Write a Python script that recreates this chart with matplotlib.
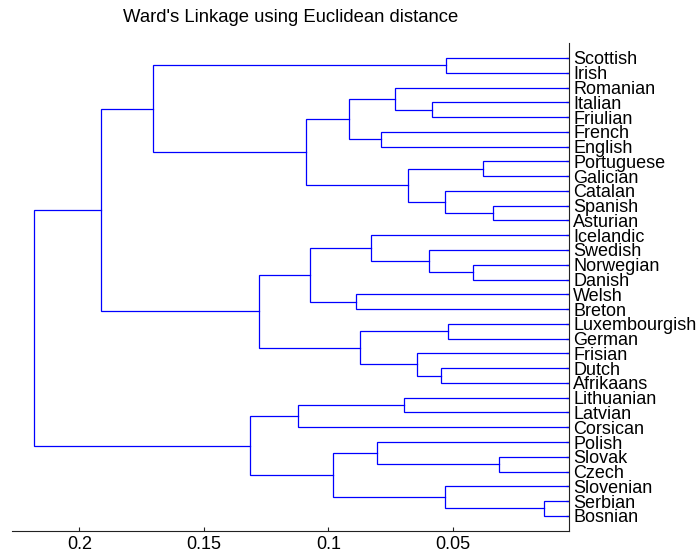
#!/usr/bin/env python
"""Draw a left-facing dendrogram of European languages (Ward's linkage).

Usage:
    python plot.py
"""

import matplotlib

matplotlib.use("Agg")  # Use non-interactive backend

import matplotlib.pyplot as plt

plt.rcParams["font.family"] = ["Liberation Sans", "DejaVu Sans"]

# Leaves, top to bottom
labels = [
    "Scottish", "Irish", "Romanian", "Italian", "Friulian", "French", "English",
    "Portuguese", "Galician", "Catalan", "Spanish", "Asturian", "Icelandic",
    "Swedish", "Norwegian", "Danish", "Welsh", "Breton", "Luxembourgish",
    "German", "Frisian", "Dutch", "Afrikaans", "Lithuanian", "Latvian",
    "Corsican", "Polish", "Slovak", "Czech", "Slovenian", "Serbian", "Bosnian",
]

# Linkage: merge k joins link_a[k] and link_b[k] into node len(labels) + k
link_a = [30, 27, 10, 7, 14, 18, 0, 9, 29, 21, 3, 13, 20, 35, 23, 2,
          5, 26, 12, 37, 16, 47, 49, 50, 53, 46, 55, 57, 38, 60, 61]
link_b = [31, 28, 11, 8, 15, 19, 1, 34, 32, 22, 4, 36, 41, 39, 24, 42,
          6, 33, 43, 44, 17, 48, 40, 52, 45, 25, 51, 54, 56, 58, 59]
link_height = [0.0135, 0.0315, 0.0339, 0.0380, 0.0420, 0.0520, 0.0528, 0.0532,
               0.0532, 0.0548, 0.0584, 0.0596, 0.0645, 0.0681, 0.0697, 0.0733,
               0.0789, 0.0805, 0.0829, 0.0873, 0.0890, 0.0918, 0.0982, 0.1074,
               0.1090, 0.1122, 0.1279, 0.1315, 0.1705, 0.1914, 0.2183]

x_ticks = [0.2, 0.15, 0.1, 0.05]
x_tick_labels = ["0.2", "0.15", "0.1", "0.05"]

LINE_COLOR = "#0000ff"


def node_positions():
    """Return (height, y) for every leaf and merged node."""
    n = len(labels)
    pos = [(0.0, i + 1) for i in range(n)]
    for a, b, h in zip(link_a, link_b, link_height):
        pos.append((h, (pos[a][1] + pos[b][1]) / 2.0))
    return pos


def draw_dendrogram(ax):
    """Draw the U-shaped links of the tree."""
    pos = node_positions()
    for a, b, h in zip(link_a, link_b, link_height):
        ha, ya = pos[a]
        hb, yb = pos[b]
        ax.plot([ha, h, h, hb], [ya, ya, yb, yb], color=LINE_COLOR,
                linewidth=0.9, solid_joinstyle="miter")


def main():
    fig = plt.figure(figsize=(7.0, 5.54), dpi=100)
    ax = fig.add_axes([0.0171, 0.0422, 0.7957, 0.8798])

    draw_dendrogram(ax)

    ax.set_xlim(0.2271, 0.0034)
    ax.set_ylim(len(labels) + 1, 0)

    ax.set_xticks(x_ticks)
    ax.set_xticklabels(x_tick_labels)
    ax.set_yticks(range(1, len(labels) + 1))
    ax.set_yticklabels(labels)

    ax.yaxis.tick_right()
    for side in ("top", "left"):
        ax.spines[side].set_visible(False)
    for side in ("bottom", "right"):
        ax.spines[side].set_linewidth(0.8)
        ax.spines[side].set_color("#222222")

    ax.tick_params(axis="x", direction="in", length=3, width=0.8,
                   color="#222222", pad=4, labelsize=13)
    ax.tick_params(axis="y", direction="in", length=2.5, width=0.9,
                   color="#222222", pad=3, labelsize=13)

    fig.text(290.5 / 700, 1 - 18.0 / 554, "Ward's Linkage using Euclidean distance",
             ha="center", va="center", fontsize=13.3)

    fig.savefig("out.png", dpi=100)
    plt.close(fig)


if __name__ == "__main__":
    main()
